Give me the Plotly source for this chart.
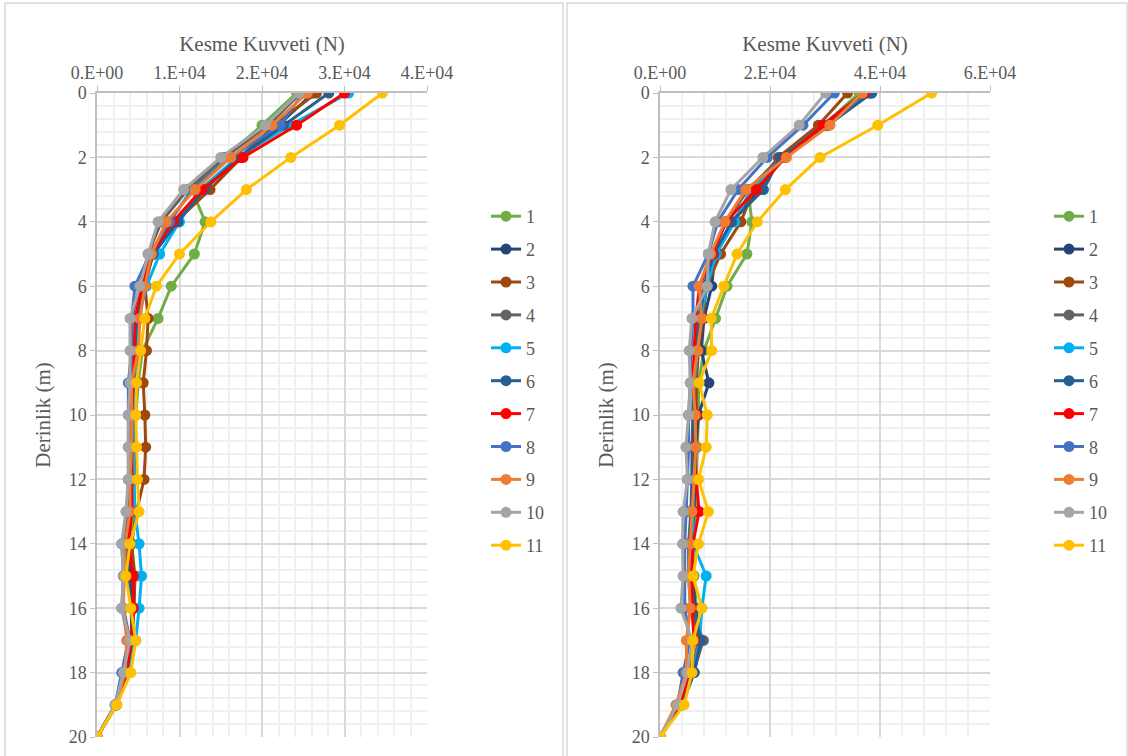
import plotly.graph_objects as go

depth = list(range(0, 21))
series_names = ["1", "2", "3", "4", "5", "6", "7", "8", "9", "10", "11"]
colors = ["#70AD47", "#264478", "#9E480E", "#636363", "#00B0F0", "#255E91",
          "#FF0000", "#4472C4", "#ED7D31", "#A5A5A5", "#FFC000"]

# Left panel values (x 1E4 N), depth 0..20
left_1 = [2.42, 2.00, 1.55, 1.15, 1.31, 1.18, 0.90, 0.74, 0.55, 0.50, 0.47, 0.46, 0.45, 0.44, 0.42, 0.44, 0.44, 0.45, 0.38, 0.24, 0]
left_2 = [2.62, 2.20, 1.72, 1.30, 0.98, 0.68, 0.55, 0.50, 0.50, 0.48, 0.46, 0.46, 0.45, 0.42, 0.38, 0.40, 0.42, 0.42, 0.36, 0.23, 0]
left_3 = [2.66, 2.15, 1.75, 1.37, 0.95, 0.68, 0.58, 0.62, 0.60, 0.56, 0.58, 0.59, 0.57, 0.48, 0.42, 0.46, 0.45, 0.42, 0.36, 0.23, 0]
left_4 = [2.47, 2.08, 1.55, 1.10, 0.78, 0.62, 0.52, 0.42, 0.42, 0.40, 0.40, 0.40, 0.40, 0.38, 0.32, 0.32, 0.32, 0.40, 0.34, 0.22, 0]
left_5 = [3.05, 2.34, 1.70, 1.25, 1.00, 0.76, 0.60, 0.50, 0.48, 0.46, 0.44, 0.44, 0.45, 0.46, 0.51, 0.54, 0.51, 0.47, 0.38, 0.24, 0]
left_6 = [2.81, 2.26, 1.72, 1.30, 0.98, 0.68, 0.55, 0.48, 0.46, 0.44, 0.42, 0.42, 0.42, 0.40, 0.36, 0.38, 0.42, 0.42, 0.35, 0.23, 0]
left_7 = [3.00, 2.42, 1.77, 1.27, 0.92, 0.66, 0.55, 0.46, 0.45, 0.44, 0.42, 0.42, 0.42, 0.42, 0.38, 0.44, 0.44, 0.42, 0.36, 0.23, 0]
left_8 = [2.50, 2.22, 1.62, 1.15, 0.88, 0.64, 0.46, 0.42, 0.42, 0.38, 0.38, 0.38, 0.38, 0.36, 0.30, 0.32, 0.30, 0.38, 0.30, 0.22, 0]
left_9 = [2.55, 2.12, 1.62, 1.19, 0.84, 0.66, 0.58, 0.52, 0.50, 0.42, 0.42, 0.42, 0.40, 0.40, 0.34, 0.33, 0.32, 0.36, 0.34, 0.23, 0]
left_10 = [2.45, 2.04, 1.50, 1.05, 0.74, 0.62, 0.52, 0.40, 0.40, 0.40, 0.38, 0.38, 0.38, 0.35, 0.30, 0.32, 0.30, 0.40, 0.32, 0.22, 0]
left_11 = [3.46, 2.94, 2.35, 1.81, 1.38, 1.00, 0.72, 0.58, 0.53, 0.48, 0.47, 0.48, 0.49, 0.51, 0.40, 0.35, 0.41, 0.47, 0.41, 0.24, 0]

# Right panel values (x 1E4 N), depth 0..20
right_1 = [3.62, 2.98, 2.20, 1.60, 1.67, 1.58, 1.22, 1.01, 0.80, 0.70, 0.70, 0.68, 0.66, 0.64, 0.60, 0.62, 0.66, 0.72, 0.60, 0.38, 0]
right_2 = [3.82, 3.02, 2.20, 1.80, 1.30, 1.00, 0.94, 0.80, 0.75, 0.89, 0.70, 0.65, 0.64, 0.62, 0.58, 0.60, 0.64, 0.76, 0.62, 0.40, 0]
right_3 = [3.41, 2.88, 2.15, 1.70, 1.47, 1.10, 0.85, 0.78, 0.70, 0.66, 0.66, 0.64, 0.62, 0.60, 0.56, 0.58, 0.60, 0.70, 0.58, 0.36, 0]
right_4 = [3.70, 2.95, 2.20, 1.60, 1.20, 0.95, 0.80, 0.70, 0.65, 0.62, 0.60, 0.58, 0.58, 0.56, 0.52, 0.52, 0.56, 0.79, 0.60, 0.38, 0]
right_5 = [3.79, 3.05, 2.25, 1.65, 1.36, 1.02, 0.85, 0.74, 0.68, 0.62, 0.62, 0.60, 0.60, 0.60, 0.60, 0.84, 0.76, 0.72, 0.60, 0.38, 0]
right_6 = [3.85, 3.05, 2.19, 1.88, 1.30, 0.98, 0.80, 0.72, 0.65, 0.60, 0.60, 0.60, 0.58, 0.58, 0.55, 0.56, 0.62, 0.74, 0.62, 0.40, 0]
right_7 = [3.72, 2.96, 2.28, 1.75, 1.20, 0.95, 0.72, 0.65, 0.62, 0.60, 0.66, 0.62, 0.66, 0.71, 0.60, 0.58, 0.58, 0.62, 0.55, 0.36, 0]
right_8 = [3.17, 2.60, 1.95, 1.42, 1.05, 0.88, 0.60, 0.60, 0.56, 0.55, 0.52, 0.52, 0.50, 0.48, 0.45, 0.45, 0.45, 0.55, 0.42, 0.32, 0]
right_9 = [3.68, 3.09, 2.30, 1.56, 1.18, 0.92, 0.71, 0.76, 0.68, 0.60, 0.64, 0.65, 0.62, 0.58, 0.55, 0.52, 0.55, 0.48, 0.48, 0.29, 0]
right_10 = [3.01, 2.53, 1.87, 1.29, 1.00, 0.88, 0.86, 0.58, 0.53, 0.55, 0.52, 0.47, 0.50, 0.42, 0.41, 0.42, 0.38, 0.58, 0.50, 0.32, 0]
right_11 = [4.94, 3.96, 2.91, 2.28, 1.77, 1.40, 1.16, 0.93, 0.94, 0.71, 0.86, 0.84, 0.70, 0.88, 0.70, 0.60, 0.76, 0.60, 0.58, 0.44, 0]

left_series = [left_1, left_2, left_3, left_4, left_5, left_6, left_7, left_8, left_9, left_10, left_11]
right_series = [right_1, right_2, right_3, right_4, right_5, right_6, right_7, right_8, right_9, right_10, right_11]

left_tickvals = [0, 10000, 20000, 30000, 40000]
left_ticktext = ["0.E+00", "1.E+04", "2.E+04", "3.E+04", "4.E+04"]
right_tickvals = [0, 20000, 40000, 60000]
right_ticktext = ["0.E+00", "2.E+04", "4.E+04", "6.E+04"]
y_tickvals = list(range(0, 21, 2))

x_title = "Kesme Kuvveti (N)"
y_title = "Derinlik (m)"

W, H = 1128, 756
FONT = "Liberation Serif"
TXT = "#595959"

fig = go.Figure()

for i, (name, vals) in enumerate(zip(series_names, left_series)):
    fig.add_trace(go.Scatter(
        x=[v * 1e4 for v in vals], y=depth, name=name, mode="lines+markers",
        line=dict(color=colors[i], width=3), marker=dict(color=colors[i], size=11),
        xaxis="x", yaxis="y", legend="legend", legendgroup="L" + name))
for i, (name, vals) in enumerate(zip(series_names, right_series)):
    fig.add_trace(go.Scatter(
        x=[v * 1e4 for v in vals], y=depth, name=name, mode="lines+markers",
        line=dict(color=colors[i], width=3), marker=dict(color=colors[i], size=11),
        xaxis="x2", yaxis="y2", legend="legend2", legendgroup="R" + name))

def px_x(p):
    return p / W

def px_y(p):
    return 1 - p / H

grid_major = "#D9D9D9"
grid_minor = "#F0F0F0"

def xaxis_cfg(x0, x1, rng, tv, tt, minor_dt):
    return dict(
        domain=[px_x(x0), px_x(x1)], range=rng, side="top", automargin=False,
        tickvals=tv, ticktext=tt, showgrid=True, gridcolor=grid_major, gridwidth=1.5,
        minor=dict(dtick=minor_dt, showgrid=True, gridcolor=grid_minor, gridwidth=1.5, ticks=""),
        showline=True, linecolor="#BFBFBF", linewidth=1.5, ticks="outside", ticklen=5,
        tickcolor="#BFBFBF", tickfont=dict(family=FONT, size=18, color=TXT),
        title=dict(text=x_title, font=dict(family=FONT, size=21, color=TXT), standoff=6),
        zeroline=False, mirror=False)

def yaxis_cfg(anchor):
    return dict(
        domain=[px_y(737), px_y(93)], range=[20, 0], anchor=anchor, automargin=False,
        tickvals=y_tickvals, showgrid=True, gridcolor=grid_major, gridwidth=1.5,
        minor=dict(dtick=0.4, showgrid=True, gridcolor=grid_minor, gridwidth=1.5, ticks=""),
        showline=True, linecolor="#BFBFBF", linewidth=1.5, ticks="outside", ticklen=5,
        tickcolor="#BFBFBF", tickfont=dict(family=FONT, size=18, color=TXT),
        title=dict(text=y_title, font=dict(family=FONT, size=21, color=TXT), standoff=12),
        zeroline=False)

fig.update_layout(
    width=W, height=H, margin=dict(l=0, r=0, t=0, b=0, autoexpand=False),
    paper_bgcolor="white", plot_bgcolor="white",
    xaxis=dict(xaxis_cfg(97, 427, [0, 40000], left_tickvals, left_ticktext, 2000), anchor="y"),
    yaxis=yaxis_cfg("x"),
    xaxis2=dict(xaxis_cfg(660, 990, [0, 60000], right_tickvals, right_ticktext, 4000), anchor="y2"),
    yaxis2=yaxis_cfg("x2"),
    legend=dict(x=px_x(486), y=px_y(198), xanchor="left", yanchor="top",
                font=dict(family=FONT, size=18, color=TXT), tracegroupgap=6.5,
                bgcolor="rgba(0,0,0,0)"),
    legend2=dict(x=px_x(1049), y=px_y(198), xanchor="left", yanchor="top",
                 font=dict(family=FONT, size=18, color=TXT), tracegroupgap=6.5,
                 bgcolor="rgba(0,0,0,0)"),
    shapes=[
        dict(type="rect", xref="paper", yref="paper", x0=px_x(5), x1=px_x(563),
             y0=px_y(760), y1=px_y(3), line=dict(color="#D9D9D9", width=1.5)),
        dict(type="rect", xref="paper", yref="paper", x0=px_x(567), x1=px_x(1127),
             y0=px_y(760), y1=px_y(3), line=dict(color="#D9D9D9", width=1.5)),
    ],
)

fig.write_html("out.html", config={"displayModeBar": False},
               post_script="document.body.style.margin='0px';document.body.style.overflow='hidden';")
